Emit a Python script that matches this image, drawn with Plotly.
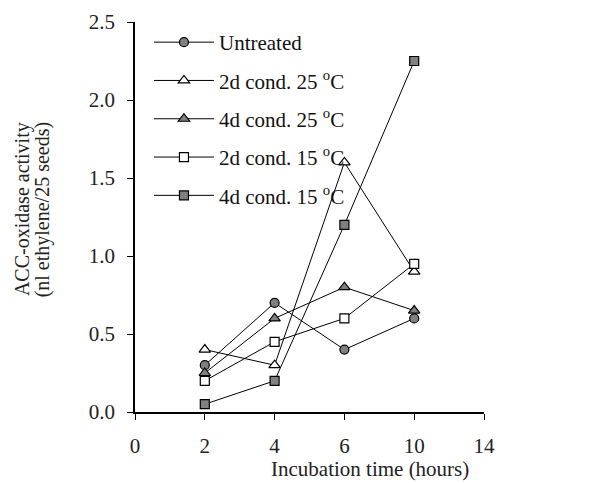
import plotly.graph_objects as go

x_tick_labels = ["0", "2", "4", "6", "10", "14"]
times = ["2", "4", "6", "10"]
series_names = ["Untreated", "2d cond. 25 <sup>o</sup>C", "4d cond. 25 <sup>o</sup>C",
                "2d cond. 15 <sup>o</sup>C", "4d cond. 15 <sup>o</sup>C"]
untreated = [0.30, 0.70, 0.40, 0.60]
cond2d_25 = [0.40, 0.30, 1.60, 0.90]
cond4d_25 = [0.25, 0.60, 0.80, 0.65]
cond2d_15 = [0.20, 0.45, 0.60, 0.95]
cond4d_15 = [0.05, 0.20, 1.20, 2.25]
y_title_lines = ["ACC-oxidase activity", "(nl ethylene/25 seeds)"]
x_title = "Incubation time (hours)"

values = [untreated, cond2d_25, cond4d_25, cond2d_15, cond4d_15]
symbols = ["circle", "triangle-up", "triangle-up", "square", "square"]
fills = ["#808080", "white", "#808080", "white", "#808080"]
sizes = [9, 10, 10, 9, 9]

fig = go.Figure()
for i, (name, vals) in enumerate(zip(series_names, values)):
    fig.add_trace(go.Scatter(
        x=times, y=vals, name=name, mode="lines+markers",
        legendgroup=str(i),
        line=dict(color="black", width=1),
        marker=dict(symbol=symbols[i], size=sizes[i], color=fills[i],
                    line=dict(color="black", width=1.2)),
    ))

font_family = "Liberation Serif, Times New Roman, serif"
text_color = "#222"
fig.update_layout(
    width=608, height=475,
    margin=dict(l=127, r=132, t=14, b=71),
    plot_bgcolor="white", paper_bgcolor="white",
    font=dict(family=font_family, size=21, color=text_color),
    showlegend=True,
    legend=dict(x=0.04, y=1.0, xanchor="left", yanchor="top",
                bgcolor="rgba(0,0,0,0)", font=dict(size=21, color="#111"),
                tracegroupgap=8, itemwidth=60),
    xaxis=dict(type="category", categoryorder="array", categoryarray=x_tick_labels,
               tickvals=x_tick_labels, ticktext=x_tick_labels,
               range=[0, 5], showline=True, linecolor="black", linewidth=1.5,
               ticks="outside", ticklen=6, tickcolor="black", showgrid=False,
               zeroline=False, automargin=False, ticklabelstandoff=8,
               tickfont=dict(size=21)),
    yaxis=dict(range=[0, 2.5], dtick=0.5, tickformat=".1f",
               showline=True, linecolor="black", linewidth=1.5,
               ticks="outside", ticklen=6, tickcolor="black", showgrid=False,
               zeroline=False, automargin=False, ticklabelstandoff=8,
               tickfont=dict(size=21)),
)

fig.add_annotation(text=y_title_lines[0], xref="paper", yref="paper",
                   x=-0.324, y=0.52, xanchor="center", yanchor="middle",
                   textangle=-90, showarrow=False, font=dict(size=20, color=text_color))
fig.add_annotation(text=y_title_lines[1], xref="paper", yref="paper",
                   x=-0.266, y=0.52, xanchor="center", yanchor="middle",
                   textangle=-90, showarrow=False, font=dict(size=20, color=text_color))
fig.add_annotation(text=x_title, xref="paper", yref="paper",
                   x=0.673, y=-0.145, xanchor="center", yanchor="middle",
                   showarrow=False, font=dict(size=21, color=text_color))

fig.write_html("out.html")
